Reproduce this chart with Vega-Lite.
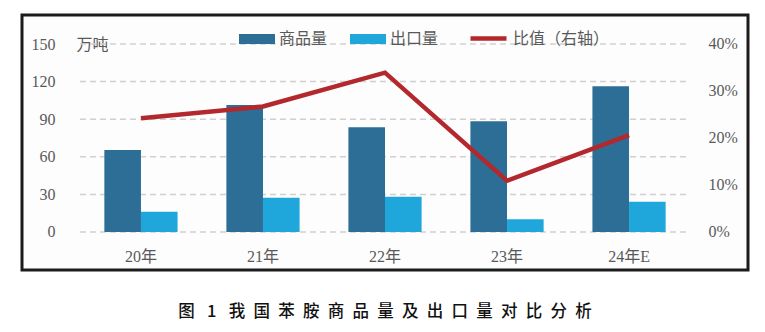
{
  "$schema": "https://vega.github.io/schema/vega-lite/v6.json",
  "width": 726,
  "height": 255,
  "autosize": {"type": "none"},
  "padding": {"left": 22, "top": 15, "right": 17, "bottom": 62},
  "background": "white",
  "config": {
    "view": {"stroke": "#1b1b1b", "strokeWidth": 3, "fill": "#FDFDFD"},
    "axis": {"labelFont": "Liberation Serif, Noto Sans CJK SC", "labelFontSize": 16, "labelColor": "#595959", "domain": false, "ticks": false, "grid": false},
    "legend": {"labelFont": "Noto Sans CJK SC", "labelFontSize": 16, "labelColor": "#595959"}
  },
  "title": {
    "text": "图\u2002\u20051\u2002\u2005我\u2002国\u2002苯\u2002胺\u2002商\u2002品\u2002量\u2002及\u2002出\u2002口\u2002量\u2002对\u2002比\u2002分\u2002析",
    "orient": "bottom", "anchor": "middle", "offset": 34, "fontSize": 16.5, "font": "Noto Sans CJK SC", "fontWeight": 500, "color": "#111111"
  },
  "datasets": {
    "bars": [
      {"year": "20年", "series": "商品量", "value": 65.5},
      {"year": "20年", "series": "出口量", "value": 16.2},
      {"year": "21年", "series": "商品量", "value": 101.3},
      {"year": "21年", "series": "出口量", "value": 27.4},
      {"year": "22年", "series": "商品量", "value": 83.5},
      {"year": "22年", "series": "出口量", "value": 28.2},
      {"year": "23年", "series": "商品量", "value": 88.3},
      {"year": "23年", "series": "出口量", "value": 10.1},
      {"year": "24年E", "series": "商品量", "value": 116.2},
      {"year": "24年E", "series": "出口量", "value": 24.2}
    ],
    "ratio": [
      {"year": "20年", "ratio": 0.242, "series": "比值（右轴）"},
      {"year": "21年", "ratio": 0.267, "series": "比值（右轴）"},
      {"year": "22年", "ratio": 0.339, "series": "比值（右轴）"},
      {"year": "23年", "ratio": 0.109, "series": "比值（右轴）"},
      {"year": "24年E", "ratio": 0.206, "series": "比值（右轴）"}
    ],
    "grid": [{"v": 0}, {"v": 30}, {"v": 60}, {"v": 90}, {"v": 120}, {"v": 150}]
  },
  "layer": [
    {
      "layer": [
        {
          "data": {"name": "grid"},
          "mark": {"type": "rule", "strokeDash": [6, 4], "color": "#D3CFCF", "strokeWidth": 1.5},
          "encoding": {
            "x": {"datum": "20年", "type": "nominal", "bandPosition": -0.333},
            "x2": {"datum": "24年E", "bandPosition": 1.333},
            "y": {
              "field": "v", "type": "quantitative",
              "scale": {"domain": [-30.32, 173.14], "nice": false, "zero": false},
              "axis": {"orient": "left", "offset": -33, "labelPadding": 0, "values": [0, 30, 60, 90, 120, 150],
                "title": "万吨", "titleAngle": 0, "titleX": 21, "titleY": 29, "titleAlign": "left", "titleBaseline": "middle",
                "titleFont": "Noto Sans CJK SC", "titleFontSize": 16, "titleFontWeight": "normal", "titleColor": "#595959"}
            }
          }
        },
        {
          "data": {"name": "bars"},
          "mark": {"type": "bar"},
          "encoding": {
            "x": {
              "field": "year", "type": "nominal",
              "scale": {"domain": ["20年", "21年", "22年", "23年", "24年E"], "paddingInner": 0.4, "paddingOuter": 0.675},
              "axis": {"orient": "bottom", "offset": -14, "labelPadding": 0, "labelAngle": 0, "labelAlign": "center", "bandPosition": 0.5, "title": null}
            },
            "xOffset": {"field": "series", "type": "nominal", "scale": {"domain": ["商品量", "出口量"], "paddingInner": 0, "paddingOuter": 0}},
            "y": {
              "field": "value", "type": "quantitative",
              "scale": {"domain": [-30.32, 173.14], "nice": false, "zero": false},
              "axis": {"orient": "left", "offset": -33, "labelPadding": 0, "values": [0, 30, 60, 90, 120, 150],
                "title": "万吨", "titleAngle": 0, "titleX": 21, "titleY": 29, "titleAlign": "left", "titleBaseline": "middle",
                "titleFont": "Noto Sans CJK SC", "titleFontSize": 16, "titleFontWeight": "normal", "titleColor": "#595959"}
            },
            "y2": {"datum": 0},
            "color": {
              "field": "series", "type": "nominal",
              "scale": {"domain": ["商品量", "出口量"], "range": ["#2D6E96", "#1FA7DC"]},
              "legend": {"orient": "none", "legendX": 217, "legendY": 6, "direction": "horizontal", "title": null,
                "symbolType": "M-1,-0.278H1V0.278H-1Z", "symbolSize": 1296, "symbolStrokeWidth": 0, "labelOffset": 4, "columnPadding": 22}
            }
          }
        }
      ]
    },
    {
      "data": {"name": "ratio"},
      "mark": {"type": "line", "strokeWidth": 4.5, "strokeJoin": "miter"},
      "encoding": {
        "x": {"field": "year", "type": "nominal"},
        "y": {
          "field": "ratio", "type": "quantitative",
          "scale": {"domain": [-0.0809, 0.4617], "nice": false, "zero": false},
          "axis": {"orient": "right", "offset": -40, "labelPadding": 0, "values": [0, 0.1, 0.2, 0.3, 0.4], "format": ".0%", "title": null}
        },
        "stroke": {
          "field": "series", "type": "nominal",
          "scale": {"domain": ["比值（右轴）"], "range": ["#B3282D"]},
          "legend": {"orient": "none", "legendX": 446, "legendY": 3, "direction": "horizontal", "title": null,
            "symbolType": "stroke", "symbolSize": 1296, "symbolStrokeWidth": 4.5, "labelOffset": 4}
        }
      }
    }
  ],
  "resolve": {"scale": {"y": "independent", "stroke": "independent", "color": "independent"}}
}
